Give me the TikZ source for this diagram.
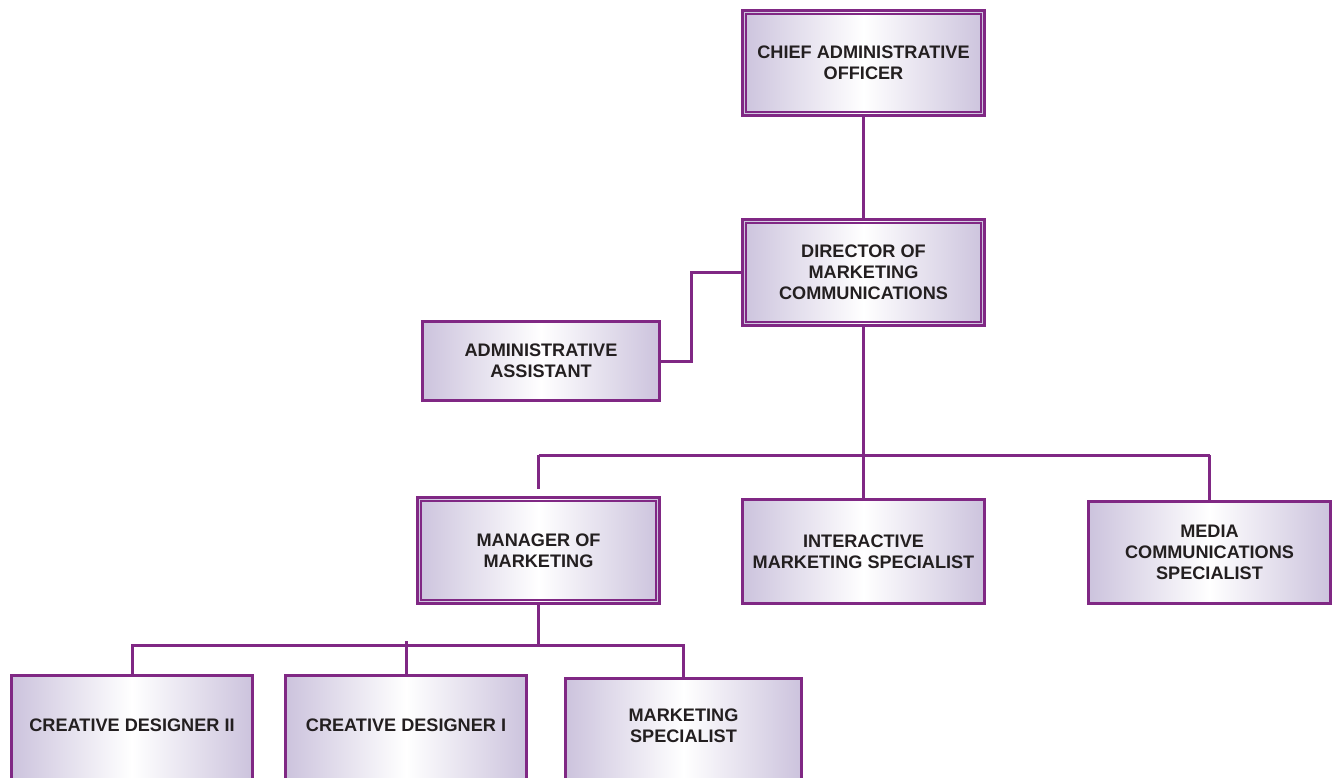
\documentclass[tikz,border=0pt]{standalone}
\usepackage{fontspec}
\setmainfont{Liberation Sans}
\definecolor{purp}{RGB}{128,40,132}
\definecolor{lav}{RGB}{204,195,221}
\definecolor{ink}{RGB}{35,31,32}
\begin{document}
\begin{tikzpicture}[x=0.75pt,y=-0.75pt,
  box/.style={rectangle, draw=purp, line width=2.25pt,
    left color=lav, right color=lav, middle color=white,
    font=\bfseries\fontsize{13.6}{15.75}\selectfont, text=ink,
    align=center, inner sep=0pt},
  inner/.style={draw=purp, line width=1.9pt},
  link/.style={draw=purp, line width=2.25pt}]
\clip (0,0) rectangle (1335,778);

% upper levels
\node[box, minimum width=181.5pt, minimum height=78.75pt] (cao) at (863.5,63)
  {CHIEF ADMINISTRATIVE\\OFFICER};
\node[box, minimum width=181.5pt, minimum height=79.5pt] (dir) at (863.5,272.5)
  {DIRECTOR OF\\MARKETING\\COMMUNICATIONS};
\node[box, minimum width=177.75pt, minimum height=59.25pt] (aa) at (541,361)
  {ADMINISTRATIVE\\ASSISTANT};

% middle level
\node[box, minimum width=181.5pt, minimum height=79.5pt] (man) at (538.5,550.5)
  {MANAGER OF\\MARKETING};
\node[box, minimum width=181.5pt, minimum height=78pt] (int) at (863.5,551.5)
  {INTERACTIVE\\MARKETING SPECIALIST};
\node[box, minimum width=181.5pt, minimum height=76.5pt] (med) at (1209.5,552.5)
  {MEDIA\\COMMUNICATIONS\\SPECIALIST};

% bottom level, running past the lower edge
\node[box, anchor=north, minimum width=180.75pt, text height=42.4pt, text depth=60pt]
  (cd2) at (132,673.5) {CREATIVE DESIGNER II};
\node[box, anchor=north, minimum width=180.75pt, text height=42.4pt, text depth=60pt]
  (cd1) at (406,673.5) {CREATIVE DESIGNER I};
\node[box, anchor=north, minimum width=177pt, text height=48.35pt, text depth=60pt]
  (ms) at (683.5,677) {MARKETING\\SPECIALIST};

% inner frames of the double-ruled boxes
\foreach \n in {cao,dir,man}
  \draw[inner] ([xshift=3.75pt,yshift=-3.75pt]\n.north west)
    rectangle ([xshift=-3.75pt,yshift=3.75pt]\n.south east);

% connectors
\draw[link] (cao.south) -- (dir.north);
\draw[link] (dir.west) -- (691,272.5) |- (aa.east);

\coordinate (j1) at (863.5,455);
\draw[link] (dir.south) -- (int.north);
\draw[link] (j1 -| man.north) -- (j1 -| med.north);
\draw[link, shorten >=5pt] (j1 -| man.north) -- (man.north);
\draw[link] (j1 -| med.north) -- (med.north);

\coordinate (j2) at (538.5,645);
\draw[link] (man.south) -- (j2);
\draw[link] (cd2.north) -- (cd2.north |- j2) -- (ms.north |- j2) -- (ms.north);
\draw[link] (406,641) -- (cd1.north);
\end{tikzpicture}
\end{document}
